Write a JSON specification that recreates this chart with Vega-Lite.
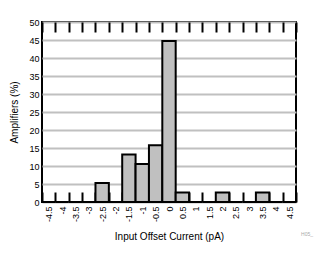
{
  "$schema": "https://vega.github.io/schema/vega-lite/v6.json",
  "width": 254,
  "height": 180,
  "autosize": "none",
  "padding": {"left": 42, "top": 22, "right": 33, "bottom": 57},
  "config": {
    "font": "Liberation Sans",
    "view": {"stroke": "black", "strokeWidth": 2},
    "axis": {
      "labelFont": "Liberation Sans",
      "titleFont": "Liberation Sans",
      "labelFontSize": 9,
      "titleFontSize": 10,
      "titleFontWeight": "normal",
      "labelColor": "black",
      "titleColor": "black",
      "domain": false
    }
  },
  "title": {"text": "H05_", "orient": "bottom", "anchor": "end", "fontSize": 5, "fontWeight": "normal", "color": "#aaaaaa", "dx": 16, "dy": -14, "font": "Liberation Sans"},
  "data": {
    "values": [
      {"current": "-4.5", "pct": 0},
      {"current": "-4", "pct": 0},
      {"current": "-3.5", "pct": 0},
      {"current": "-3", "pct": 0},
      {"current": "-2.5", "pct": 5.26},
      {"current": "-2", "pct": 0},
      {"current": "-1.5", "pct": 13.16},
      {"current": "-1", "pct": 10.53},
      {"current": "-0.5", "pct": 15.79},
      {"current": "0", "pct": 44.74},
      {"current": "0.5", "pct": 2.63},
      {"current": "1", "pct": 0},
      {"current": "1.5", "pct": 0},
      {"current": "2", "pct": 2.63},
      {"current": "2.5", "pct": 0},
      {"current": "3", "pct": 0},
      {"current": "3.5", "pct": 2.63},
      {"current": "4", "pct": 0},
      {"current": "4.5", "pct": 0}
    ]
  },
  "encoding": {
    "y": {
      "field": "pct", "type": "quantitative",
      "scale": {"domain": [0, 50]},
      "axis": {
        "title": "Amplifiers (%)",
        "values": [0, 5, 10, 15, 20, 25, 30, 35, 40, 45, 50],
        "ticks": false, "labelPadding": 3,
        "grid": true, "gridColor": "#c0c0c0", "gridWidth": 2,
        "titlePadding": 9
      }
    }
  },
  "layer": [
    {
      "mark": {"type": "bar", "fill": "#c0c0c0", "stroke": "black", "strokeWidth": 2},
      "encoding": {
        "x": {
          "field": "current", "type": "ordinal", "sort": null,
          "scale": {"paddingInner": 0, "paddingOuter": 0},
          "axis": {
            "title": "Input Offset Current (pA)",
            "labelAngle": -90, "labelAlign": "right", "labelBaseline": "middle",
            "tickBand": "extent", "tickSize": -10, "tickWidth": 2, "tickColor": "black",
            "labelPadding": 14, "titlePadding": 10
          }
        }
      }
    },
    {
      "mark": {"type": "bar", "opacity": 0},
      "encoding": {
        "x": {
          "field": "current", "type": "ordinal", "sort": null,
          "axis": {
            "orient": "top", "labels": false, "title": null,
            "tickBand": "extent", "tickSize": -10, "tickWidth": 2, "tickColor": "black"
          }
        }
      }
    }
  ],
  "resolve": {"axis": {"x": "independent"}}
}
